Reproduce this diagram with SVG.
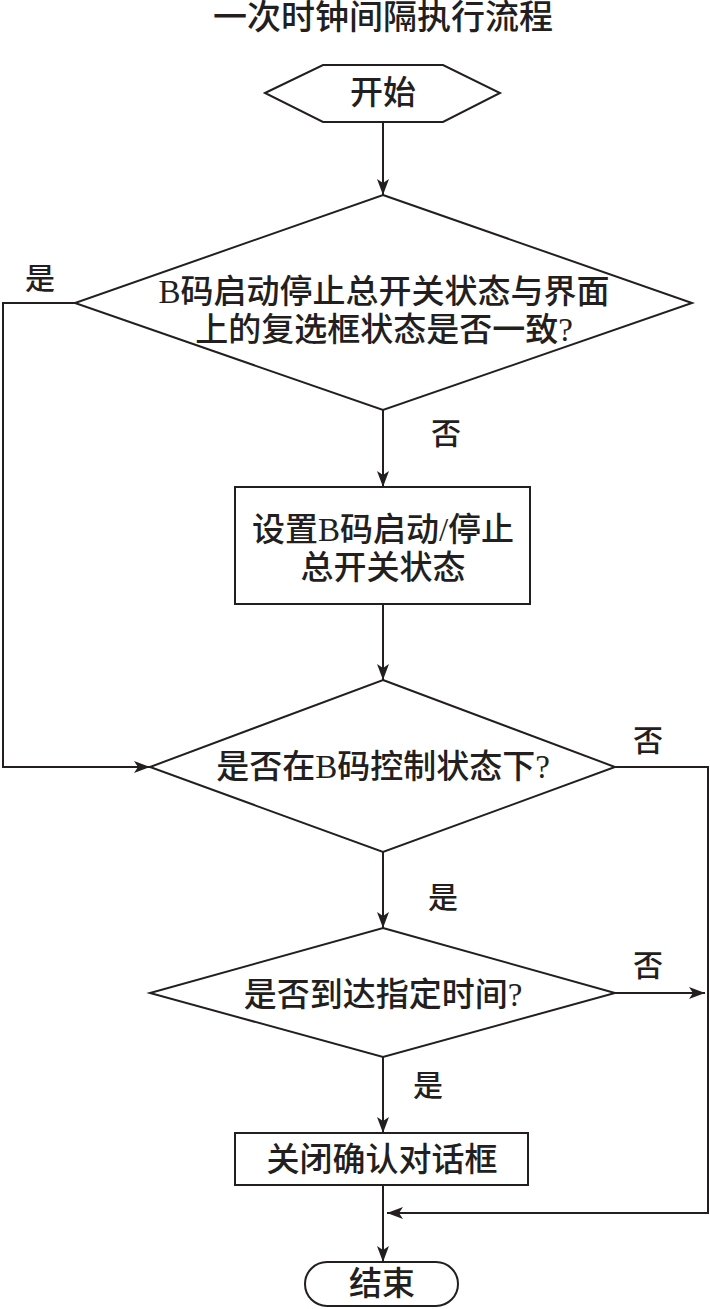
<svg xmlns="http://www.w3.org/2000/svg" width="710" height="1309" viewBox="0 0 710 1309">
<style>
.shape{fill:#fff;stroke:#231f20;stroke-width:2}
.conn{fill:none;stroke:#231f20;stroke-width:2}
text{font-family:"Liberation Serif","Noto Sans CJK SC",serif;fill:#231f20;text-anchor:middle;dominant-baseline:central;font-weight:500}
.t{font-size:33px}
.lbl{font-size:30px}
</style>
<defs>
<marker id="ah" viewBox="0 0 16 12" markerUnits="userSpaceOnUse" markerWidth="16" markerHeight="12" refX="16" refY="6" orient="auto">
<path d="M0,0 L16,6 L0,12 L4,6 Z" fill="#231f20"/>
</marker>
</defs>
<rect width="710" height="1309" fill="#fff"/>
<text class="t" x="383" y="17" style="font-size:34px">一次时钟间隔执行流程</text>
<g id="connectors">
<line class="conn" x1="383" y1="122" x2="383" y2="195" marker-end="url(#ah)"/>
<path class="conn" d="M75,303 H3 V767 H150" marker-end="url(#ah)"/>
<line class="conn" x1="383" y1="410" x2="383" y2="487" marker-end="url(#ah)"/>
<line class="conn" x1="383" y1="604" x2="383" y2="680" marker-end="url(#ah)"/>
<path class="conn" d="M615,767 H708 V1213 H387" marker-end="url(#ah)"/>
<line class="conn" x1="383" y1="852" x2="383" y2="928" marker-end="url(#ah)"/>
<line class="conn" x1="615" y1="993" x2="705" y2="993" marker-end="url(#ah)"/>
<line class="conn" x1="383" y1="1057" x2="383" y2="1133" marker-end="url(#ah)"/>
<line class="conn" x1="383" y1="1185" x2="383" y2="1262" marker-end="url(#ah)"/>
<text class="lbl" x="40" y="278">是</text>
<text class="lbl" x="446" y="433">否</text>
<text class="lbl" x="648" y="740">否</text>
<text class="lbl" x="443" y="897">是</text>
<text class="lbl" x="648" y="965">否</text>
<text class="lbl" x="428" y="1085">是</text>
</g>
<g id="start">
<polygon class="shape" points="265,93 323,65 443,65 500,93 443,122 323,122"/>
<text class="t" x="383" y="93">开始</text>
</g>
<g id="decision1">
<polygon class="shape" points="383,195 692,303 383,410 75,303"/>
<text class="t" x="384" y="292">B码启动停止总开关状态与界面</text>
<text class="t" x="384" y="330">上的复选框状态是否一致?</text>
</g>
<g id="setState">
<rect class="shape" x="235" y="487" width="295" height="117"/>
<text class="t" x="383" y="530">设置B码启动/停止</text>
<text class="t" x="383" y="568">总开关状态</text>
</g>
<g id="decision2">
<polygon class="shape" points="383,680 615,767 383,852 150,767"/>
<text class="t" x="383" y="767">是否在B码控制状态下?</text>
</g>
<g id="decision3">
<polygon class="shape" points="383,928 615,993 383,1057 150,993"/>
<text class="t" x="383" y="995">是否到达指定时间?</text>
</g>
<g id="closeDialog">
<rect class="shape" x="235" y="1133" width="293" height="52"/>
<text class="t" x="382" y="1160">关闭确认对话框</text>
</g>
<g id="end">
<rect class="shape" x="305" y="1262" width="153" height="44" rx="22" ry="22"/>
<text class="t" x="382" y="1284">结束</text>
</g>
</svg>
